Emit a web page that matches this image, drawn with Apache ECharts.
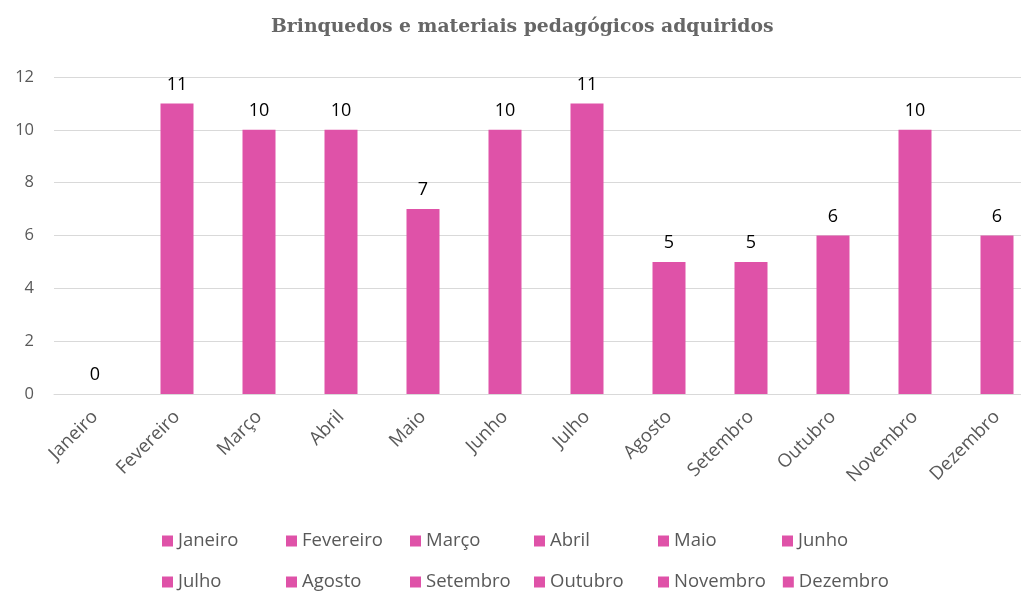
<!DOCTYPE html>
<html>
<head>
<meta charset="utf-8">
<script src="https://cdn.jsdelivr.net/npm/echarts@6/dist/echarts.min.js"></script>
<style>html,body{margin:0;padding:0;background:#fff;}#c{width:1021px;height:591px;}</style>
</head>
<body>
<div id="c"></div>
<script>
const title = 'Brinquedos e materiais pedagógicos adquiridos';
const months = ['Janeiro','Fevereiro','Março','Abril','Maio','Junho','Julho','Agosto','Setembro','Outubro','Novembro','Dezembro'];
const values = [0, 11, 10, 10, 7, 10, 11, 5, 5, 6, 10, 6];
const yTicks = [0, 2, 4, 6, 8, 10, 12];

const barColor = '#DF52A8';
const labelFont = '"Open Sans", Lato, sans-serif';

const series = months.map((m, i) => ({
  name: m,
  type: 'bar',
  stack: 'total',
  barWidth: 33,
  itemStyle: { color: barColor },
  label: { show: true, position: 'top', distance: 10, color: '#000', fontSize: 18, fontFamily: labelFont },
  data: months.map((_, j) => (j === i ? values[i] : '-'))
}));

const chart = echarts.init(document.getElementById('c'), null, { renderer: 'canvas' });
chart.setOption({
  animation: false,
  backgroundColor: '#fff',
  title: {
    text: title,
    left: 266,
    top: 13,
    textStyle: { fontFamily: '"DejaVu Serif", serif', fontSize: 18.8, fontWeight: 'bold', color: '#666666' }
  },
  legend: {
    data: months,
    left: 157,
    top: 524,
    width: 750,
    itemWidth: 11,
    itemHeight: 11,
    itemGap: 17,
    icon: 'rect',
    formatter: '{a|{name}}',
    textStyle: {
      color: '#595959',
      fontFamily: labelFont,
      fontSize: 18.5,
      rich: { a: { width: 91, height: 24, lineHeight: 24, fontSize: 18.5, fontFamily: labelFont, color: '#595959', overflow: 'none' } }
    }
  },
  grid: { left: 54, width: 984, top: 77, bottom: 197, outerBoundsMode: 'none', containLabel: false },
  xAxis: {
    type: 'category',
    data: months,
    axisLine: { show: true, lineStyle: { color: '#d9d9d9', width: 1 } },
    axisTick: { show: false },
    axisLabel: { rotate: 45, margin: 20, color: '#595959', fontSize: 18.5, fontFamily: labelFont, interval: 0 }
  },
  yAxis: {
    type: 'value',
    min: yTicks[0],
    max: yTicks[yTicks.length - 1],
    interval: yTicks[1] - yTicks[0],
    axisLine: { show: false },
    axisTick: { show: false },
    axisLabel: { margin: 20, color: '#595959', fontSize: 16.5, fontFamily: labelFont },
    splitLine: { lineStyle: { color: '#d9d9d9', width: 1 } }
  },
  series: series
});
</script>
</body>
</html>
